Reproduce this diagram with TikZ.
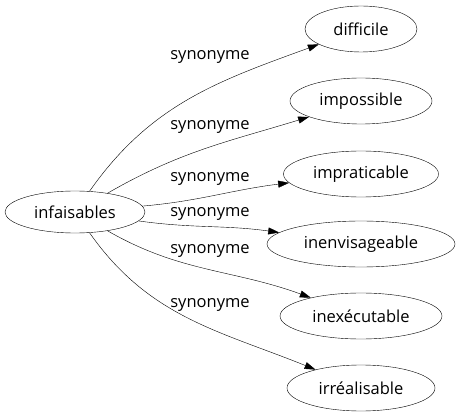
\documentclass[tikz,border=0pt]{standalone}
\usepackage{fontspec}
\setmainfont{Open Sans}
\usetikzlibrary{shapes.geometric}
\usetikzlibrary{arrows.meta}
\tikzset{mot/.style={draw, ellipse, inner sep=0pt, minimum height=46pt, font=\fontsize{16.5pt}{18pt}\selectfont}}
\tikzset{lien/.style={-{Triangle[length=11pt,width=7pt]}}}
\tikzset{lbl/.style={font=\fontsize{16.5pt}{18pt}\selectfont, inner sep=0pt}}

\begin{document}
\begin{tikzpicture}[x=1pt,y=-1pt]
    \useasboundingbox (0,0) rectangle (457,419);
    %Nodes
    \node[mot, minimum width=140pt, minimum height=42pt] (inf) at (75,212) {infaisables};
    \node[mot, minimum width=112pt] (dif) at (361,29) {difficile};
    \node[mot, minimum width=142pt] (imp) at (361,101) {impossible};
    \node[mot, minimum width=155pt] (ipr) at (361,174) {impraticable};
    \node[mot, minimum width=188pt] (inv) at (361,244) {inenvisageable};
    \node[mot, minimum width=162pt] (inx) at (361,316) {inexécutable};
    \node[mot, minimum width=148pt] (irr) at (361,388) {irréalisable};
    %Edges
    \draw[lien] (inf) to[out=55, in=200] (dif);
    \draw[lien] (inf) to[out=30, in=197] (imp);
    \draw[lien] (inf) to[out=5, in=187] (ipr);
    \draw[lien] (inf) to[out=-8, in=172] (inv);
    \draw[lien] (inf) to[out=-30, in=160] (inx);
    \draw[lien] (inf) to[out=-55, in=158] (irr);
    %Labels
    \node[lbl] (l1) at (210,57) {synonyme};
    \node[lbl] (l2) at (210,127) {synonyme};
    \node[lbl] (l3) at (210,179) {synonyme};
    \node[lbl] (l4) at (210,214) {synonyme};
    \node[lbl] (l5) at (210,251) {synonyme};
    \node[lbl] (l6) at (210,305) {synonyme};
\end{tikzpicture}
\end{document}
